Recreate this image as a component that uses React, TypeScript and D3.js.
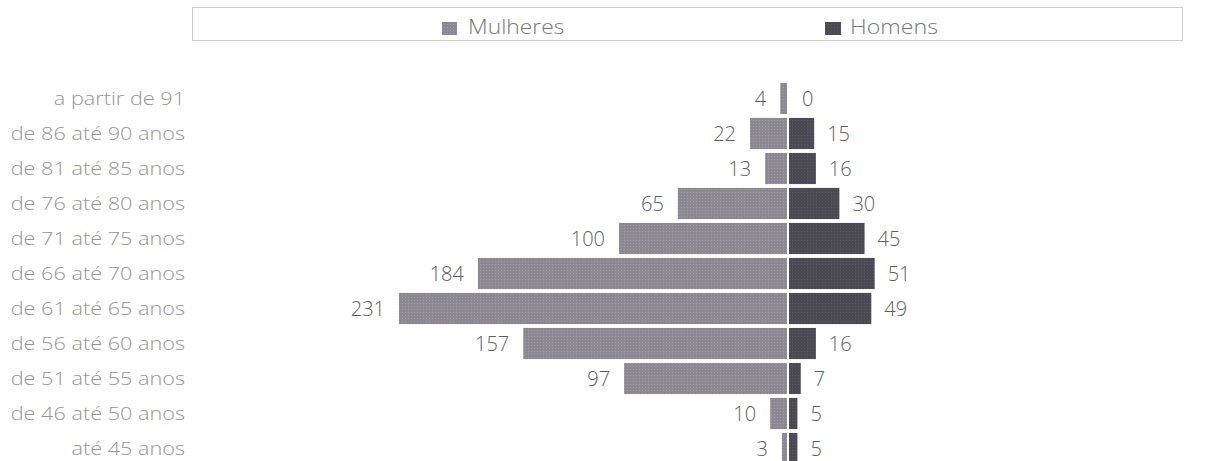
import React from "react";
import * as d3 from "d3";

const categories = [
  "a partir de 91",
  "de 86 até 90 anos",
  "de 81 até 85 anos",
  "de 76 até 80 anos",
  "de 71 até 75 anos",
  "de 66 até 70 anos",
  "de 61 até 65 anos",
  "de 56 até 60 anos",
  "de 51 até 55 anos",
  "de 46 até 50 anos",
  "até 45 anos",
];
const mulheres = [4, 22, 13, 65, 100, 184, 231, 157, 97, 10, 3];
const homens = [0, 15, 16, 30, 45, 51, 49, 16, 7, 5, 5];
const seriesNames = ["Mulheres", "Homens"];

const W = 1206;
const H = 461;
const CX = 788;
const FONT = "'Open Sans', 'Liberation Sans', sans-serif";
const COL_F = "#8b8892";
const COL_M = "#4b4a52";

export default function App() {
  const y = d3.scaleBand<string>().domain(categories).range([81, 81 + 385]).paddingInner(0.11).paddingOuter(0.055);
  const xL = d3.scaleLinear().domain([0, 231]).range([CX - 1, 399]);
  const xR = d3.scaleLinear().domain([0, 231]).range([CX + 1, CX + 1 + (CX - 1 - 399)]);
  const bh = y.bandwidth();

  return (
    <svg width={W} height={H} style={{ position: "absolute", left: 0, top: 0, background: "#fff" }}>
      <defs>
        <pattern id="pf" width="3" height="3" patternUnits="userSpaceOnUse">
          <rect width="3" height="3" fill={COL_F} />
          <rect width="1" height="1" fill="#a09ca6" />
        </pattern>
        <pattern id="pm" width="3" height="3" patternUnits="userSpaceOnUse">
          <rect width="3" height="3" fill={COL_M} />
          <rect width="1" height="1" fill="#5c5a62" />
        </pattern>
      </defs>
      <rect x={192.5} y={7.5} width={990} height={33} fill="none" stroke="#9a9a9a" strokeDasharray="1 1" />
      <rect x={442} y={22} width={15} height={13} fill="url(#pf)" />
      <g transform="translate(468,34) scale(1.14,1)">
        <text x={0} y={0} fontFamily={FONT} fontSize={20} fill="#777" fontWeight={300}>{seriesNames[0]}</text>
      </g>
      <rect x={825} y={22} width={16} height={13} fill="url(#pm)" />
      <g transform="translate(850,34) scale(1.16,1)">
        <text x={0} y={0} fontFamily={FONT} fontSize={20} fill="#777" fontWeight={300}>{seriesNames[1]}</text>
      </g>

      {categories.map((c, i) => {
        const top = y(c)!;
        const mid = top + bh / 2;
        return (
          <g key={c}>
            <g transform={`translate(185,${mid}) scale(1.14,1)`}>
              <text x={0} y={0} dy="0.36em" textAnchor="end" fontFamily={FONT} fontSize={19} fill="#959595" fontWeight={300}>{c}</text>
            </g>
            <rect x={xL(mulheres[i])} y={top} width={xL(0) - xL(mulheres[i])} height={bh} fill="url(#pf)" />
            <rect x={xR(0)} y={top} width={xR(homens[i]) - xR(0)} height={bh} fill="url(#pm)" />
            <text x={xL(mulheres[i]) - 14} y={mid} dy="0.36em" textAnchor="end" fontFamily={FONT} fontSize={20} fill="#5e5e5e" fontWeight={300}>{mulheres[i]}</text>
            <text x={xR(homens[i]) + 13} y={mid} dy="0.36em" textAnchor="start" fontFamily={FONT} fontSize={20} fill="#5e5e5e" fontWeight={300}>{homens[i]}</text>
          </g>
        );
      })}
    </svg>
  );
}
